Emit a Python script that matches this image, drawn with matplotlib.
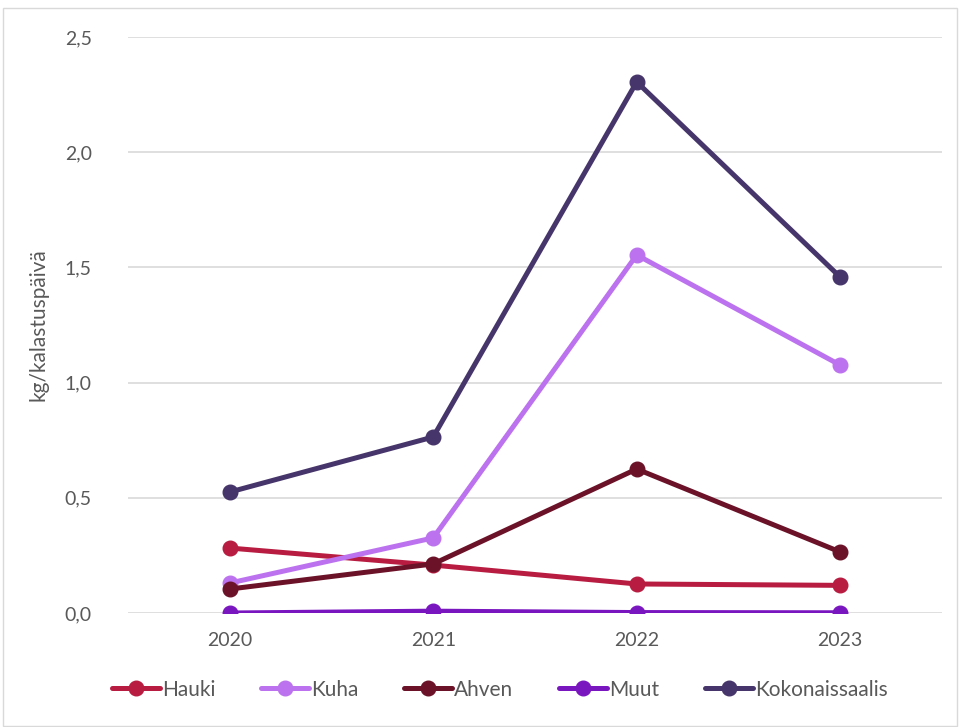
import matplotlib.pyplot as plt
from matplotlib.patches import Rectangle

# data
years = ["2020", "2021", "2022", "2023"]
hauki = [0.282, 0.208, 0.126, 0.120]
kuha = [0.130, 0.326, 1.554, 1.076]
ahven = [0.104, 0.213, 0.625, 0.265]
muut = [0.000, 0.008, 0.002, 0.001]
kokonais = [0.525, 0.764, 2.305, 1.458]

series = [
    ("Hauki", hauki, "#B81C40"),
    ("Kuha", kuha, "#BC72EE"),
    ("Ahven", ahven, "#6B1228"),
    ("Muut", muut, "#7A16C0"),
    ("Kokonaissaalis", kokonais, "#46356A"),
]

plt.rcParams["font.family"] = ["Lato", "DejaVu Sans"]

fig = plt.figure(figsize=(9.6, 7.27), dpi=100)
ax = fig.add_axes([0.1333, 0.1568, 0.8479, 0.7923])

x = range(len(years))
for name, vals, col in series:
    ax.plot(x, vals, color=col, linewidth=3.6, marker="o", markersize=10.5,
            label=name, solid_capstyle="round")

ax.set_xlim(-0.5, 3.5)
ax.set_ylim(0, 2.5)
ax.set_yticks([0, 0.5, 1.0, 1.5, 2.0, 2.5])
ax.set_yticklabels(["0,0", "0,5", "1,0", "1,5", "2,0", "2,5"])
ax.set_xticks(list(x))
ax.set_xticklabels(years)
ax.tick_params(length=0, labelsize=14, colors="#595959", pad=14)
ax.tick_params(axis="y", pad=26)
ax.grid(axis="y", color="#D9D9D9", linewidth=1.2)
ax.set_axisbelow(True)
for s in ax.spines.values():
    s.set_visible(False)
ax.set_ylabel("kg/kalastuspäivä", fontsize=15, color="#595959", labelpad=12)

ax.legend(loc="center", bbox_to_anchor=(0.457, -0.133), ncol=5, frameon=False,
          fontsize=15, handlelength=2.3, handletextpad=0.1, columnspacing=2.2,
          labelcolor="#595959")

fig.patches.append(Rectangle((0.003, 0.001), 0.994, 0.988, transform=fig.transFigure,
                             fill=False, edgecolor="#D9D9D9", linewidth=1))

fig.savefig("out.png", dpi=100)
